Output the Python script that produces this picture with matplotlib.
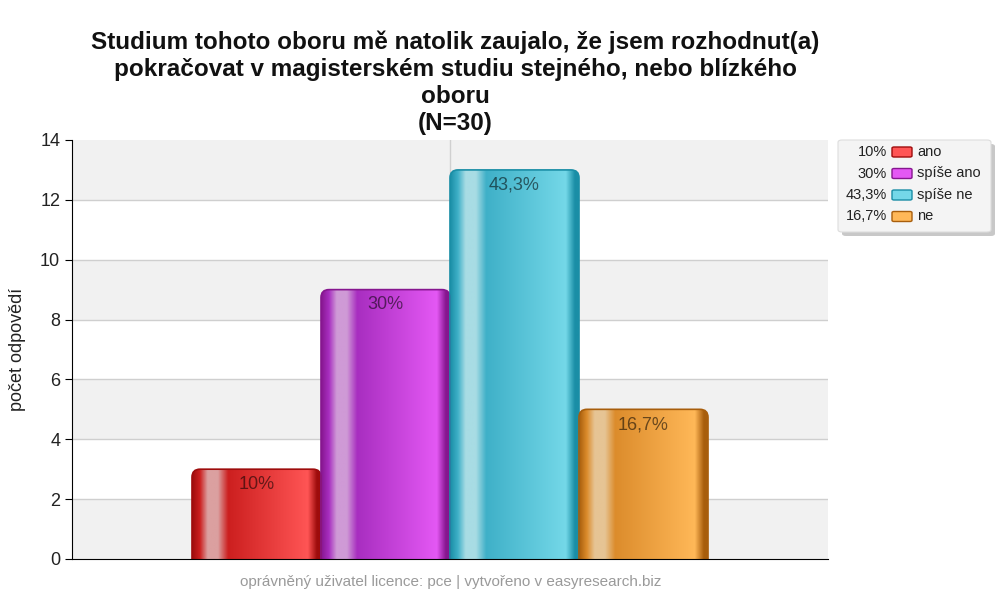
import matplotlib
matplotlib.use("Agg")
import matplotlib.pyplot as plt
import numpy as np
from matplotlib.patches import FancyBboxPatch
from matplotlib.colors import LinearSegmentedColormap

plt.rcParams['font.family'] = ['Liberation Sans', 'DejaVu Sans']

# data
categories = ['ano', 'spíše ano', 'spíše ne', 'ne']
counts = [3, 9, 13, 5]
pct_labels = ['10%', '30%', '43,3%', '16,7%']
y_ticks = [0, 2, 4, 6, 8, 10, 12, 14]

title = ('Studium tohoto oboru mě natolik zaujalo, že jsem rozhodnut(a)\n'
         'pokračovat v magisterském studiu stejného, nebo blízkého\n'
         'oboru\n(N=30)')
ylabel = 'počet odpovědí'
footer = 'oprávněný uživatel licence: pce | vytvořeno v easyresearch.biz'

# (edge, highlight, main-left, main-right)
palettes = [
    ('#9e0c0c', '#dba0a0', '#cc1f1f', '#ff5555'),
    ('#86168f', '#cf9ad6', '#a82ec0', '#e458f4'),
    ('#1a8ea6', '#a8dce4', '#3fb0c8', '#74d8e8'),
    ('#a85e0c', '#e6c494', '#dc8c2c', '#ffb858'),
]

fig = plt.figure(figsize=(10, 6.06), dpi=100)
ax = fig.add_axes([0.072, 0.0776, 0.756, 0.6914])
ax.set_xlim(0, 1)
ax.set_ylim(0, 14)

# alternating bands
for y0 in range(0, 14, 4):
    ax.axhspan(y0, y0 + 2, color='#f1f1f1', zorder=0, lw=0)
for y in y_ticks[1:-1]:
    ax.axhline(y, color='#cfcfcf', lw=1, zorder=0.5)
ax.axvline(0.5, color='#d0d0d0', lw=1, zorder=0.5)

bar_w = 129 / 756
start = 0.5 - 2 * bar_w
px_x = 756.0
px_y = 419.0 / 14
r = 8 / px_x
aspect = px_x / px_y

for i, (val, pal, lab) in enumerate(zip(counts, palettes, pct_labels)):
    x0 = start + i * bar_w
    edge, hi, m1, m2 = pal
    cmap = LinearSegmentedColormap.from_list(
        'g%d' % i,
        [(0.0, edge), (0.06, m1), (0.12, hi), (0.2, hi), (0.28, m1),
         (0.9, m2), (0.97, edge), (1.0, edge)])
    grad = np.linspace(0, 1, 256).reshape(1, -1)
    im = ax.imshow(grad, cmap=cmap, aspect='auto', extent=(x0, x0 + bar_w, -1, val),
                   zorder=2, interpolation='bilinear')
    patch = FancyBboxPatch((x0, -1), bar_w, val + 1,
                           boxstyle='round,pad=0,rounding_size=%f' % r,
                           mutation_aspect=aspect, fc='none', ec=edge, lw=1.2,
                           zorder=3, transform=ax.transData)
    ax.add_patch(patch)
    im.set_clip_path(patch)
    ax.annotate(lab, (x0 + bar_w / 2, val), xytext=(0, -11), textcoords='offset points',
                ha='center', va='center', fontsize=13, color='black', alpha=0.55, zorder=4)

ax.set_yticks(y_ticks)
ax.set_xticks([])
ax.tick_params(axis='y', labelsize=13, length=5, color='black', labelcolor='#222222')
for s in ['top', 'right']:
    ax.spines[s].set_visible(False)
ax.spines['left'].set_color('black')
ax.spines['bottom'].set_color('black')
ax.spines['left'].set_zorder(5)
ax.spines['bottom'].set_zorder(5)
ax.set_ylabel(ylabel, fontsize=13, color='#222222', labelpad=10)

fig.text(0.455, 1 - 83 / 606, title, ha='center', va='center', fontsize=17.5, fontweight='bold',
         linespacing=1.22, color='#111111')
fig.text(0.451, 1 - 582 / 606, footer, ha='center', va='center', fontsize=11, color='#9a9a9a')

# legend box
W, H = 1000.0, 606.0
lx0, ly0, lw_, lh_ = 838, 140, 153, 92
shadow = FancyBboxPatch(((lx0 + 4) / W, 1 - (ly0 + lh_ + 4) / H), lw_ / W, lh_ / H,
                        boxstyle='round,pad=0,rounding_size=0.004', transform=fig.transFigure,
                        fc='#c8c8c8', ec='none', zorder=1)
box = FancyBboxPatch((lx0 / W, 1 - (ly0 + lh_) / H), lw_ / W, lh_ / H,
                     boxstyle='round,pad=0,rounding_size=0.004', transform=fig.transFigure,
                     fc='#f4f4f4', ec='#dddddd', lw=0.8, zorder=2)
fig.patches.extend([shadow, box])
for i, (cat, lab, pal) in enumerate(zip(categories, pct_labels, palettes)):
    yc = 1 - (152 + i * 21.5) / H
    fig.text(887 / W, yc, lab, ha='right', va='center', fontsize=10.5, color='#222222', zorder=3)
    sw = FancyBboxPatch((892 / W, yc - 5 / H), 20 / W, 10 / H,
                        boxstyle='round,pad=0,rounding_size=0.002', transform=fig.transFigure,
                        fc=pal[3], ec=pal[0], lw=1, zorder=3)
    fig.patches.append(sw)
    fig.text(917 / W, yc, cat, ha='left', va='center', fontsize=10.5, color='#222222', zorder=3)

fig.savefig('out.png', dpi=100)
